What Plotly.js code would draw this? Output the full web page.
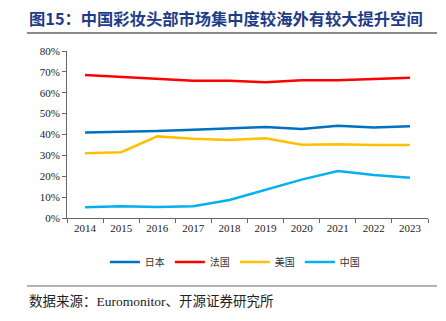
<!DOCTYPE html>
<html><head><meta charset="utf-8">
<script src="https://cdn.plot.ly/plotly-3.0.1.min.js"></script>
<style>html,body{margin:0;padding:0;background:#fff;}#chart{width:446px;height:321px;}</style>
</head><body><div id="chart"></div>
<script>
const years = ['2014','2015','2016','2017','2018','2019','2020','2021','2022','2023'];
const seriesNames = ['日本','法国','美国','中国'];
const japan  = [40.9, 41.2, 41.7, 42.3, 43.0, 43.6, 42.6, 44.2, 43.4, 43.9];
const france = [68.5, 67.5, 66.6, 65.8, 65.8, 65.0, 66.0, 66.0, 66.6, 67.2];
const usa    = [31.0, 31.5, 39.1, 38.0, 37.4, 38.2, 35.1, 35.3, 35.0, 35.0];
const china  = [5.1, 5.6, 5.3, 5.6, 8.6, 13.4, 18.4, 22.5, 20.6, 19.3];
const yTicks = [0,10,20,30,40,50,60,70,80];
const colors = ['#0070C0','#FF0000','#FFC000','#00B0F0'];
const data = [japan, france, usa, china].map((v,i)=>({
  x: years, y: v, type:'scatter', mode:'lines', name: seriesNames[i],
  line:{color:colors[i], width:2.5}
}));
const serif = 'Liberation Serif, Times New Roman, serif';
const cjk = 'Noto Sans CJK SC, sans-serif';
const layout = {
  width:446, height:321,
  margin:{l:67, r:18, t:51, b:103},
  paper_bgcolor:'#fff', plot_bgcolor:'#fff',
  showlegend:true,
  legend:{orientation:'h', x:0.465, xanchor:'center', y:-0.263, yanchor:'middle',
    font:{family:cjk, size:10, color:'#333'}, itemwidth:30, tracegroupgap:0},
  xaxis:{type:'category', range:[-0.5,9.5], showline:true, linecolor:'#666', linewidth:1,
    ticks:'outside', tickson:'boundaries', ticklen:4, tickcolor:'#666', showgrid:false, zeroline:false,
    tickfont:{family:serif, size:11, color:'#222'}},
  yaxis:{range:[0,80], tickvals:yTicks, ticktext:yTicks.map(v=>v+'%'), showline:true, linecolor:'#666', linewidth:1,
    ticks:'outside', ticklen:4, tickcolor:'#666', showgrid:false, zeroline:false,
    tickfont:{family:serif, size:11, color:'#222'}},
  annotations:[
    {xref:'paper', yref:'paper', x:-0.111, y:1.198, xanchor:'left', yanchor:'middle', showarrow:false,
     text:'<b>图15：中国彩妆头部市场集中度较海外有较大提升空间</b>', font:{family:cjk, size:16.3, color:'#1F3C88'}},
    {xref:'paper', yref:'paper', x:-0.111, y:-0.491, xanchor:'left', yanchor:'middle', showarrow:false,
     text:'数据来源：<span style="font-family:Liberation Serif">Euromonitor</span>、开源证券研究所', font:{family:cjk, size:13.5, color:'#222'}}
  ],
  shapes:[
    {type:'line', xref:'paper', yref:'paper', x0:-0.111, x1:1.025, y0:1.108, y1:1.108, line:{color:'#666', width:1.5}},
    {type:'line', xref:'paper', yref:'paper', x0:-0.111, x1:1.025, y0:-0.407, y1:-0.407, line:{color:'#666', width:1}}
  ]
};
Plotly.newPlot('chart', data, layout, {displayModeBar:false, staticPlot:true});
</script></body></html>
